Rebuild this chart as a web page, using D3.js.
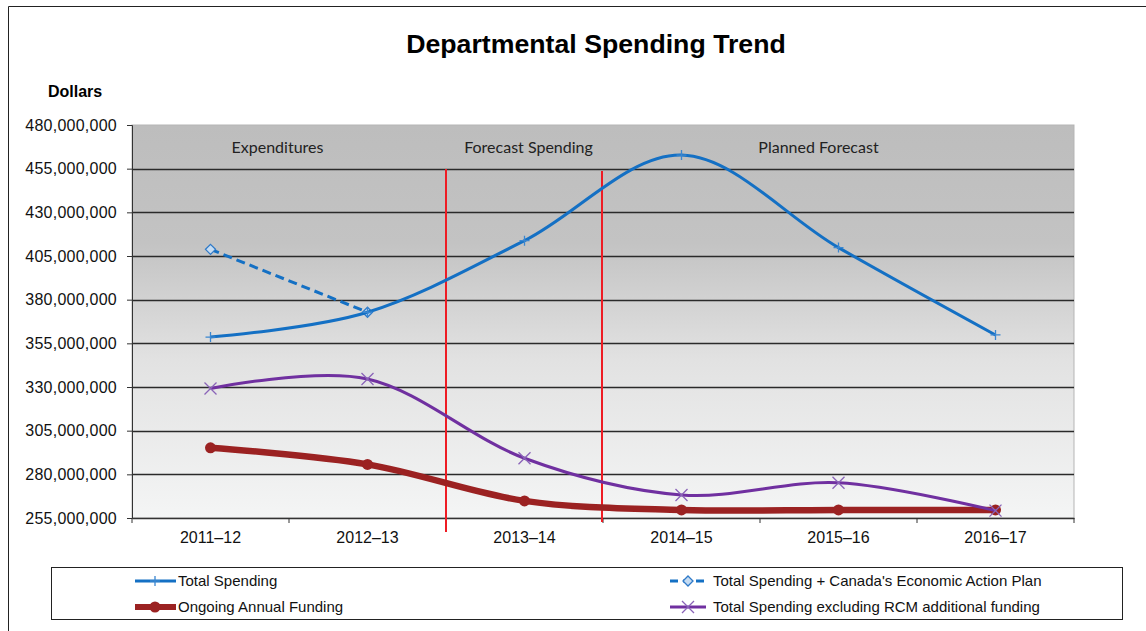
<!DOCTYPE html>
<html>
<head>
<meta charset="utf-8">
<script src="https://cdn.jsdelivr.net/npm/d3@7"></script>
<style>
  body { margin: 0; background: #fff; }
  svg { display: block; font-family: "Liberation Sans", Arial, sans-serif; }
</style>
</head>
<body>
<div id="chart"></div>
<script>
// data
const years = ['2011–12', '2012–13', '2013–14', '2014–15', '2015–16', '2016–17'];
const totalSpending = [358600000, 372800000, 413800000, 462800000, 409800000, 359800000];
const totalPlusEAP = [408800000, 372800000, null, null, null, null];
const ongoingFunding = [295200000, 285700000, 264800000, 259600000, 259600000, 259600000];
const excludingRCM = [329100000, 334600000, 289200000, 268200000, 275200000, 259200000];
const yTicks = [255000000, 280000000, 305000000, 330000000, 355000000, 380000000, 405000000, 430000000, 455000000, 480000000];
const periods = ['Expenditures', 'Forecast Spending', 'Planned Forecast'];

const width = 1146, height = 631;
const plot = { left: 132, right: 1074, top: 125, bottom: 518 };

const svg = d3.select('#chart').append('svg')
  .attr('width', width)
  .attr('height', height);

// outer frame
svg.append('path')
  .attr('d', 'M8.5,' + height + ' L8.5,6.5 L' + width + ',6.5')
  .attr('fill', 'none')
  .attr('stroke', '#222')
  .attr('stroke-width', 1);

const x = d3.scaleBand().domain(years).range([plot.left, plot.right]);
const y = d3.scaleLinear().domain([255000000, 480000000]).range([plot.bottom, plot.top]);
const cx = d => x(d) + x.bandwidth() / 2;

// background gradient
const defs = svg.append('defs');
const grad = defs.append('linearGradient')
  .attr('id', 'bg')
  .attr('x1', 0).attr('y1', 0).attr('x2', 0).attr('y2', 1);
grad.append('stop').attr('offset', '0%').attr('stop-color', '#bdbdbd');
grad.append('stop').attr('offset', '30%').attr('stop-color', '#c3c3c3');
grad.append('stop').attr('offset', '60%').attr('stop-color', '#e2e2e2');
grad.append('stop').attr('offset', '100%').attr('stop-color', '#f4f5f5');

svg.append('rect')
  .attr('x', plot.left)
  .attr('y', plot.top)
  .attr('width', plot.right - plot.left)
  .attr('height', plot.bottom - plot.top)
  .attr('fill', 'url(#bg)')
  .attr('stroke', '#b5b5b5')
  .attr('stroke-width', 1);

// gridlines
svg.append('g')
  .selectAll('line')
  .data(yTicks.filter(d => d > 255000000 && d < 480000000))
  .join('line')
  .attr('x1', plot.left)
  .attr('x2', plot.right)
  .attr('y1', d => Math.round(y(d)) + 0.5)
  .attr('y2', d => Math.round(y(d)) + 0.5)
  .attr('stroke', '#2a2a2a')
  .attr('stroke-width', 1.4);

// y axis
const yAxis = svg.append('g')
  .attr('transform', 'translate(' + plot.left + ',0)')
  .call(d3.axisLeft(y).tickValues(yTicks).tickSize(5).tickPadding(10).tickFormat(d3.format(',')));
yAxis.select('.domain').attr('stroke', '#333');
yAxis.selectAll('.tick line').attr('stroke', '#333');
yAxis.selectAll('text')
  .attr('font-size', 16)
  .attr('letter-spacing', 0.25)
  .attr('fill', '#111')
  .attr('font-family', '"Liberation Sans", Arial, sans-serif');

// x axis
const xAxis = svg.append('g')
  .attr('transform', 'translate(0,' + plot.bottom + ')')
  .call(d3.axisBottom(x).tickSize(0).tickPadding(14));
xAxis.select('.domain').attr('stroke', '#333').attr('stroke-width', 1.4);
xAxis.selectAll('text')
  .attr('font-size', 16)
  .attr('fill', '#111')
  .attr('font-family', '"Liberation Sans", Arial, sans-serif');
xAxis.append('g')
  .selectAll('line')
  .data(d3.range(years.length + 1))
  .join('line')
  .attr('x1', i => plot.left + i * x.step())
  .attr('x2', i => plot.left + i * x.step())
  .attr('y1', 0)
  .attr('y2', 5)
  .attr('stroke', '#333');

// period labels
const periodX = [cx(years[0]) + 67, cx(years[2]) + 4, cx(years[4]) - 20];
svg.append('g')
  .selectAll('text')
  .data(periods)
  .join('text')
  .attr('x', (d, i) => periodX[i])
  .attr('y', 153)
  .attr('text-anchor', 'middle')
  .attr('font-family', 'Lato, "Open Sans", sans-serif')
  .attr('font-size', 16)
  .attr('fill', '#222')
  .text(d => d);

// red period separators
[[2, 169, 532], [3, 171, 522]].forEach(([i, y1, y2]) => {
  svg.append('line')
    .attr('x1', plot.left + i * x.step() - (i - 2))
    .attr('x2', plot.left + i * x.step() - (i - 2))
    .attr('y1', y1)
    .attr('y2', y2)
    .attr('stroke', '#ee1c24')
    .attr('stroke-width', 2);
});

// series
const curve = d3.curveCardinal.tension(0);
const line = d3.line()
  .defined(d => d.v != null)
  .x(d => cx(d.k))
  .y(d => y(d.v))
  .curve(curve);
const pts = arr => years.map((k, i) => ({ k: k, v: arr[i] }));

function drawMarker(g, type, color, px, py) {
  if (type === 'plus') {
    g.append('path')
      .attr('d', 'M' + (px - 5) + ',' + py + 'H' + (px + 5) + 'M' + px + ',' + (py - 5) + 'V' + (py + 5))
      .attr('stroke', '#3a86d0').attr('stroke-width', 1.3);
  } else if (type === 'diamond') {
    g.append('path')
      .attr('d', 'M' + px + ',' + (py - 5) + 'L' + (px + 5) + ',' + py + 'L' + px + ',' + (py + 5) + 'L' + (px - 5) + ',' + py + 'Z')
      .attr('fill', '#c6dcf2').attr('stroke', '#2f7ac8').attr('stroke-width', 1.3);
  } else if (type === 'circle') {
    g.append('circle')
      .attr('cx', px).attr('cy', py).attr('r', 5.5)
      .attr('fill', color);
  } else if (type === 'x') {
    g.append('path')
      .attr('d', 'M' + (px - 6) + ',' + (py - 6) + 'L' + (px + 6) + ',' + (py + 6) + 'M' + (px + 6) + ',' + (py - 6) + 'L' + (px - 6) + ',' + (py + 6))
      .attr('stroke', '#8a63b8').attr('stroke-width', 1.3);
  }
}

const series = [
  { name: 'Total Spending', data: totalSpending, color: '#1470c4', width: 3, dash: null, marker: 'plus' },
  { name: 'Total Spending + Canada\'s Economic Action Plan', data: totalPlusEAP, color: '#1470c4', width: 3, dash: '9,5', marker: 'diamond' },
  { name: 'Ongoing Annual Funding', data: ongoingFunding, color: '#9b2222', width: 6.5, dash: null, marker: 'circle' },
  { name: 'Total Spending excluding RCM additional funding', data: excludingRCM, color: '#7030a0', width: 3, dash: null, marker: 'x' }
];

const drawOrder = [2, 3, 1, 0];
drawOrder.forEach(si => {
  const s = series[si];
  const g = svg.append('g');
  g.append('path')
    .datum(pts(s.data))
    .attr('d', line)
    .attr('fill', 'none')
    .attr('stroke', s.color)
    .attr('stroke-width', s.width)
    .attr('stroke-dasharray', s.dash)
    .attr('stroke-linecap', s.marker === 'circle' ? 'round' : 'butt');
  pts(s.data).filter(d => d.v != null).forEach(d => drawMarker(g, s.marker, s.color, cx(d.k), y(d.v)));
});

// title
svg.append('text')
  .attr('x', 596)
  .attr('y', 53)
  .attr('text-anchor', 'middle')
  .attr('font-size', 26.7)
  .attr('font-weight', 'bold')
  .attr('fill', '#000')
  .text('Departmental Spending Trend');

svg.append('text')
  .attr('x', 48)
  .attr('y', 97)
  .attr('font-size', 16)
  .attr('font-weight', 'bold')
  .attr('fill', '#000')
  .text('Dollars');

// legend
svg.append('rect')
  .attr('x', 51.5).attr('y', 567.5)
  .attr('width', 1071).attr('height', 52)
  .attr('fill', '#fff')
  .attr('stroke', '#222')
  .attr('stroke-width', 1);

const legendPos = [[135, 581], [670, 581], [135, 607], [670, 607]];
series.forEach((s, i) => {
  const [lx, ly] = legendPos[i];
  const g = svg.append('g');
  g.append('line')
    .attr('x1', lx).attr('x2', lx + (i % 2 ? 36 : 41))
    .attr('y1', ly).attr('y2', ly)
    .attr('stroke', s.color)
    .attr('stroke-width', s.width === 3 ? 3 : 6)
    .attr('stroke-dasharray', s.dash ? '8,5' : null);
  drawMarker(g, s.marker, s.color, lx + (i % 2 ? 18 : 20), ly);
  g.append('text')
    .attr('x', lx + (i % 2 ? 43 : 43))
    .attr('y', ly + 5)
    .attr('font-size', 15)
    .attr('fill', '#111')
    .text(s.name);
});
</script>
</body>
</html>
